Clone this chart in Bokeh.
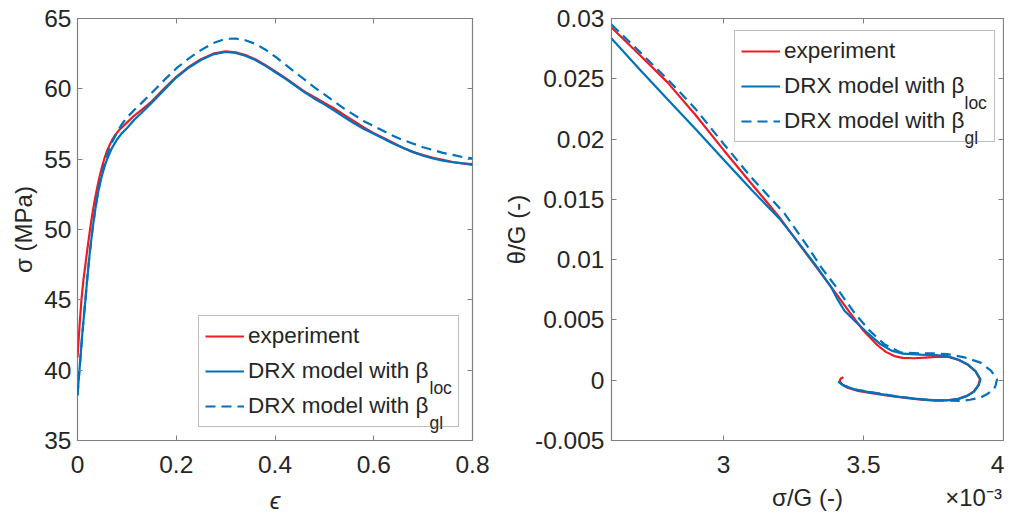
from bokeh.plotting import figure
from bokeh.models import Legend, LegendItem, Label, LinearAxis, FixedTicker, Range1d
from bokeh.layouts import row
from bokeh.embed import file_html
from bokeh.resources import INLINE

# ---------------- left panel data: stress-strain ----------------
exp_eps = [0.000, 0.004, 0.008, 0.012, 0.016, 0.020, 0.025, 0.030, 0.035, 0.040, 0.045, 0.050,
           0.055, 0.060, 0.065, 0.070, 0.075, 0.085, 0.100, 0.115, 0.130, 0.150, 0.175, 0.200,
           0.225, 0.250, 0.275, 0.300, 0.320, 0.340, 0.360, 0.380, 0.400, 0.420, 0.440, 0.460,
           0.480, 0.500, 0.520, 0.540, 0.560, 0.580, 0.600, 0.620, 0.640, 0.660, 0.680, 0.700,
           0.720, 0.740, 0.760, 0.780, 0.800]
exp_sig = [40.9, 43.1, 45.0, 46.4, 47.5, 48.6, 49.9, 51.1, 52.1, 53.0, 53.8, 54.5,
           55.1, 55.6, 56.0, 56.35, 56.65, 57.1, 57.6, 58.1, 58.5, 59.1, 60.0, 60.85,
           61.55, 62.1, 62.5, 62.67, 62.6, 62.4, 62.1, 61.7, 61.25, 60.8, 60.3, 59.8,
           59.4, 59.0, 58.6, 58.15, 57.7, 57.25, 56.85, 56.5, 56.15, 55.8, 55.5, 55.3,
           55.1, 54.95, 54.8, 54.7, 54.6]

loc_eps = [0.000, 0.003, 0.006, 0.010, 0.016, 0.020, 0.025, 0.030, 0.035, 0.040, 0.045, 0.050,
           0.055, 0.060, 0.070, 0.080, 0.090, 0.100, 0.115, 0.130, 0.150, 0.175, 0.200, 0.225,
           0.250, 0.275, 0.300, 0.320, 0.340, 0.360, 0.380, 0.400, 0.420, 0.440, 0.460, 0.480,
           0.500, 0.520, 0.540, 0.560, 0.580, 0.600, 0.620, 0.640, 0.660, 0.680, 0.700, 0.720,
           0.740, 0.760, 0.780, 0.800]
loc_sig = [38.2, 39.6, 40.9, 42.7, 45.0, 46.6, 48.4, 49.9, 51.2, 52.3, 53.2, 53.9,
           54.5, 55.0, 55.8, 56.4, 56.85, 57.2, 57.8, 58.3, 59.0, 59.9, 60.8, 61.5,
           62.05, 62.45, 62.62, 62.55, 62.35, 62.05, 61.65, 61.2, 60.75, 60.25, 59.75, 59.3,
           58.9, 58.45, 58.0, 57.55, 57.15, 56.8, 56.45, 56.1, 55.8, 55.5, 55.25, 55.05,
           54.9, 54.78, 54.7, 54.65]

gl_eps = [0.000, 0.003, 0.006, 0.010, 0.016, 0.020, 0.025, 0.030, 0.035, 0.040, 0.045, 0.050,
          0.055, 0.060, 0.070, 0.080, 0.090, 0.100, 0.115, 0.130, 0.150, 0.175, 0.200, 0.225,
          0.250, 0.275, 0.300, 0.320, 0.340, 0.360, 0.380, 0.400, 0.420, 0.440, 0.460, 0.480,
          0.500, 0.520, 0.540, 0.560, 0.580, 0.600, 0.620, 0.640, 0.660, 0.680, 0.700, 0.720,
          0.740, 0.760, 0.780, 0.800]
gl_sig = [38.2, 39.6, 40.9, 42.7, 45.0, 46.6, 48.4, 49.9, 51.2, 52.3, 53.2, 54.0,
          54.7, 55.3, 56.2, 56.9, 57.5, 57.95, 58.5, 59.0, 59.7, 60.6, 61.45, 62.15,
          62.75, 63.25, 63.55, 63.58, 63.45, 63.2, 62.8, 62.3, 61.75, 61.2, 60.65, 60.1,
          59.6, 59.1, 58.6, 58.15, 57.7, 57.35, 57.0, 56.65, 56.35, 56.1, 55.85, 55.65,
          55.45, 55.3, 55.15, 55.05]

# ---------------- right panel data: theta/G vs sigma/G (sigma/G in units of 1e-3) ----------------
exp_sG = [2.600, 2.700, 2.800, 2.900, 3.000, 3.100, 3.200, 3.300, 3.400, 3.450, 3.500, 3.550,
          3.580, 3.610, 3.640, 3.680, 3.720, 3.760, 3.800, 3.840, 3.871, 3.900, 3.916, 3.910,
          3.893, 3.869, 3.838, 3.795, 3.740, 3.680, 3.600, 3.540, 3.480, 3.445, 3.425, 3.415,
          3.418, 3.428]
exp_tG = [0.02925, 0.02700, 0.02470, 0.02200, 0.01910, 0.01630, 0.01350, 0.01035, 0.00725, 0.00565,
          0.00410, 0.00290, 0.00235, 0.00200, 0.00185, 0.00182, 0.00188, 0.00193, 0.00196, 0.00168,
          0.00131, 0.00073, 0.00008, -0.00040, -0.00095, -0.00130, -0.00155, -0.00168, -0.00167,
          -0.00155, -0.00133, -0.00112, -0.00088, -0.00065, -0.00038, -0.00010, 0.00012, 0.00025]

loc_sG = [2.600, 2.700, 2.800, 2.905, 3.000, 3.100, 3.160, 3.200, 3.278, 3.340, 3.385, 3.410,
          3.432, 3.470, 3.515, 3.560, 3.600, 3.640, 3.705, 3.760, 3.800, 3.840, 3.871, 3.900,
          3.918, 3.912, 3.895, 3.871, 3.840, 3.800, 3.750, 3.705, 3.630, 3.563, 3.510, 3.468,
          3.430, 3.409]
loc_tG = [0.02834, 0.02580, 0.02330, 0.02072, 0.01830, 0.01580, 0.01435, 0.01340, 0.01110, 0.00920,
          0.00770, 0.00660, 0.00576, 0.00490, 0.00390, 0.00300, 0.00245, 0.00220, 0.00212, 0.00208,
          0.00200, 0.00170, 0.00133, 0.00075, 0.00008, -0.00040, -0.00095, -0.00130, -0.00155,
          -0.00166, -0.00165, -0.00158, -0.00138, -0.00116, -0.00095, -0.00075, -0.00045, -0.00011]

gl_sG = [2.600, 2.700, 2.804, 2.900, 3.000, 3.100, 3.219, 3.300, 3.349, 3.400, 3.467, 3.520,
         3.574, 3.633, 3.700, 3.750, 3.800, 3.860, 3.918, 3.955, 3.977, 3.972, 3.966, 3.945,
         3.918, 3.880, 3.847, 3.800, 3.740, 3.680, 3.600, 3.530, 3.470, 3.430, 3.410]
gl_tG = [0.02950, 0.02725, 0.02488, 0.02250, 0.01961, 0.01680, 0.01380, 0.01110, 0.00936, 0.00780,
         0.00560, 0.00415, 0.00299, 0.00230, 0.00222, 0.00222, 0.00216, 0.00190, 0.00146, 0.00080,
         0.00008, -0.00040, -0.00075, -0.00110, -0.00144, -0.00162, -0.00172, -0.00170, -0.00166,
         -0.00152, -0.00128, -0.00100, -0.00077, -0.00045, -0.00012]

# ---------------- ticks and labels ----------------
left_xticks = [0, 0.2, 0.4, 0.6, 0.8]
left_xlabels = ["0", "0.2", "0.4", "0.6", "0.8"]
left_yticks = [35, 40, 45, 50, 55, 60, 65]
left_ylabels = ["35", "40", "45", "50", "55", "60", "65"]
right_xticks = [3, 3.5, 4]
right_xlabels = ["3", "3.5", "4"]
right_yticks = [-0.005, 0, 0.005, 0.01, 0.015, 0.02, 0.025, 0.03]
right_ylabels = ["-0.005", "0", "0.005", "0.01", "0.015", "0.02", "0.025", "0.03"]

left_xtitle = "\u03f5"
left_ytitle = "\u03c3 (MPa)"
right_xtitle = "\u03c3/G (-)"
right_ytitle = "\u03b8/G (-)"
right_xexp = "\u00d710\u207b\u00b3"

legend_labels = ["experiment", "DRX model with \u03b2", "DRX model with \u03b2"]
legend_subs = ["loc", "gl"]

RED = "#ec1c24"
BLUE = "#0072bd"
TXT = "#262626"
FRAME = "#808080"
FONT = "Liberation Sans"
LW = 2.2
DASH = "10 6"


def base_axis(ax, t, l, st):
    ax.ticker = FixedTicker(ticks=t)
    ax.major_label_overrides = dict(zip(t, l))
    ax.axis_line_color = None
    ax.major_tick_in = 5
    ax.major_tick_out = 0
    ax.major_tick_line_color = FRAME
    ax.minor_tick_line_color = None
    ax.major_label_text_font = FONT
    ax.major_label_text_font_size = "24.5px"
    ax.major_label_text_color = TXT
    ax.major_label_standoff = st
    ax.axis_label_text_font = FONT
    ax.axis_label_text_font_size = "24px"
    ax.axis_label_text_color = TXT
    ax.axis_label_text_font_style = "normal"


def style(p, xt, xl, yt, yl, xstand, ystand):
    p.outline_line_color = FRAME
    p.outline_line_width = 1.2
    p.grid.visible = False
    p.background_fill_color = "white"
    p.border_fill_color = "white"
    xa = p.below[0]
    ya = p.left[0]
    base_axis(xa, xt, xl, xstand)
    base_axis(ya, yt, yl, ystand)
    for t, side in ((xt, "above"), (yt, "right")):
        ax = LinearAxis(ticker=FixedTicker(ticks=t),
                        major_label_overrides={v: "" for v in t},
                        major_label_text_font_size="0px", major_label_standoff=0,
                        axis_line_color=None, major_tick_in=5, major_tick_out=0,
                        major_tick_line_color=FRAME, minor_tick_line_color=None)
        p.add_layout(ax, side)
    return xa, ya


def make_legend(p, renderers, loc):
    items = [LegendItem(label=lab, renderers=[r]) for lab, r in zip(legend_labels, renderers)]
    lg = Legend(items=items, location=loc, padding=6, spacing=7, margin=0,
                glyph_width=39, glyph_height=28, label_height=28, label_width=204,
                label_standoff=4, label_text_font=FONT, label_text_font_size="22.5px",
                label_text_color=TXT, border_line_color=FRAME, border_line_width=1,
                background_fill_color="white", background_fill_alpha=0.0)
    p.add_layout(lg, "center")


def add_subs(p, xs, ys):
    for s, y in zip(legend_subs, ys):
        p.add_layout(Label(x=xs, y=y, x_units="screen", y_units="screen", text=s,
                           text_font=FONT, text_font_size="17.5px", text_color=TXT,
                           text_baseline="alphabetic", text_align="left", level="overlay"))


# ---------------- left figure ----------------
p1 = figure(width=500, height=517, output_backend="svg", toolbar_location=None,
            x_range=Range1d(0, 0.8), y_range=Range1d(35, 65),
            min_border_left=77, min_border_right=28, min_border_top=18, min_border_bottom=77)
xa1, ya1 = style(p1, left_xticks, left_xlabels, left_yticks, left_ylabels, 15, 6)
xa1.axis_label = left_xtitle
xa1.axis_label_text_font_style = "italic"
xa1.axis_label_standoff = 11
ya1.axis_label = left_ytitle
ya1.axis_label_standoff = 4
r1 = p1.line(exp_eps, exp_sig, line_color=RED, line_width=LW)
r2 = p1.line(loc_eps, loc_sig, line_color=BLUE, line_width=LW)
r3 = p1.line(gl_eps, gl_sig, line_color=BLUE, line_width=LW, line_dash=DASH)
make_legend(p1, [r1, r2, r3], (121, 13))
add_subs(p1, 352, [53, 18])

# ---------------- right figure ----------------
p2 = figure(width=504, height=517, output_backend="svg", toolbar_location=None,
            x_range=Range1d(2.6, 4.0), y_range=Range1d(-0.005, 0.03),
            min_border_left=109, min_border_right=1, min_border_top=18, min_border_bottom=77)
xa2, ya2 = style(p2, right_xticks, right_xlabels, right_yticks, right_ylabels, 15, 7)
ya2.axis_label = right_ytitle
ya2.axis_label_standoff = 2
# second bottom row: axis title (centred under the frame) and the x10^-3 exponent at the right
title_pos = [3.30, 3.893]
ax_t = LinearAxis(ticker=FixedTicker(ticks=title_pos),
                  major_label_overrides=dict(zip(title_pos, [right_xtitle, right_xexp])),
                  major_label_text_font=FONT, major_label_text_font_size="24px",
                  major_label_text_color=TXT, major_label_standoff=8,
                  axis_line_color=None, major_tick_in=0, major_tick_out=0,
                  major_tick_line_color=None, minor_tick_line_color=None)
p2.add_layout(ax_t, "below")
q1 = p2.line(exp_sG, exp_tG, line_color=RED, line_width=LW)
q2 = p2.line(loc_sG, loc_tG, line_color=BLUE, line_width=LW)
q3 = p2.line(gl_sG, gl_tG, line_color=BLUE, line_width=LW, line_dash=DASH)
make_legend(p2, [q1, q2, q3], (123, 298))
add_subs(p2, 353, [338, 303])

layout = row(p1, p2)
open("out.html", "w").write(file_html(layout, INLINE))
